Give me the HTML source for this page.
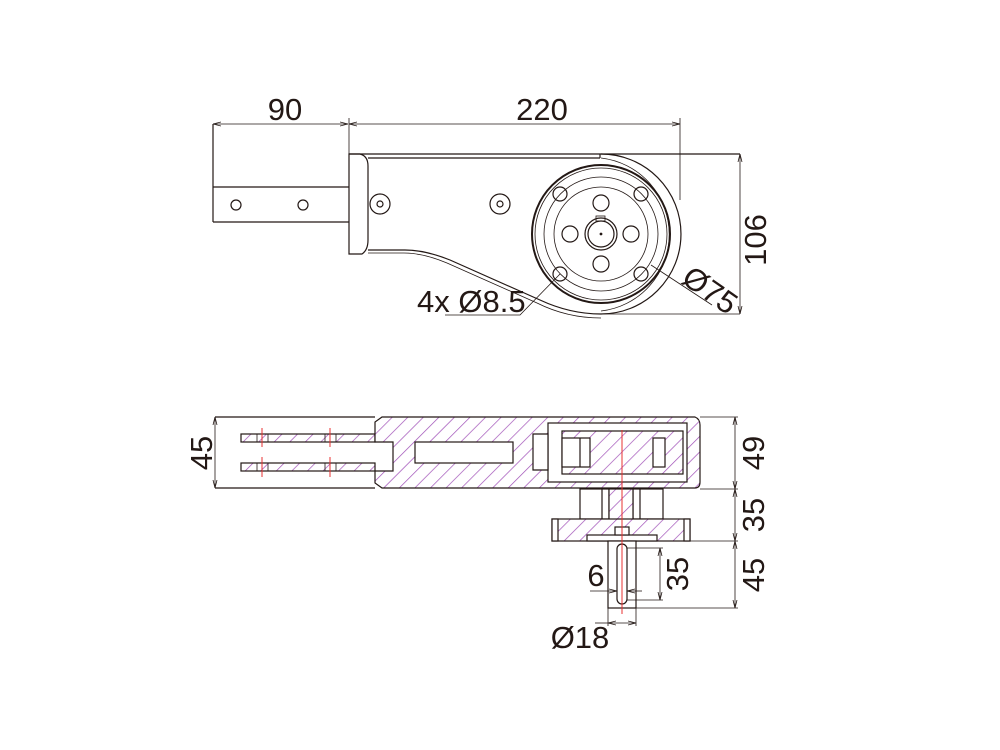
<!DOCTYPE html>
<html><head><meta charset="utf-8"><style>
html,body{margin:0;padding:0;background:#fff;}
svg{display:block}
text{font-family:"Liberation Sans",sans-serif;fill:#231815;font-size:31px;}
</style></head><body>
<svg width="1000" height="750" viewBox="0 0 1000 750" xmlns="http://www.w3.org/2000/svg">
<defs>
<pattern id="h" patternUnits="userSpaceOnUse" width="11" height="11" patternTransform="rotate(45)">
<rect width="11" height="11" fill="#fff"/>
<line x1="0" y1="0" x2="0" y2="11" stroke="#a050b8" stroke-width="1.4"/>
</pattern>
<marker id="a" markerWidth="8" markerHeight="6" refX="8" refY="3" orient="auto-start-reverse" markerUnits="userSpaceOnUse"><path d="M0,1 L8,3 L0,5" fill="none" stroke="#231815" stroke-width="0.8"/></marker>
</defs>
<g fill="none" stroke="#231815" stroke-width="1.2">
<line x1="213" y1="124" x2="348" y2="124" stroke-width="0.8" marker-start="url(#a)" marker-end="url(#a)"/>
<line x1="349" y1="124" x2="680" y2="124" stroke-width="0.8" marker-start="url(#a)" marker-end="url(#a)"/>
<line x1="213" y1="124" x2="213" y2="222"/>
<line x1="349" y1="118" x2="349" y2="154" stroke-width="0.8"/>
<line x1="680" y1="118" x2="680" y2="200" stroke-width="0.8"/>
<line x1="213" y1="187" x2="349" y2="187"/>
<line x1="213" y1="222" x2="349" y2="222"/>
<circle cx="236" cy="205" r="5"/><circle cx="303" cy="205" r="5"/>
<path d="M349,154 L349,254 L362,254 Q368,250 368,240 L368,166 Q368,156 360,154 Z"/>
<line x1="349" y1="154" x2="740" y2="154"/>
<line x1="368" y1="158" x2="600" y2="158"/>
<line x1="600" y1="154" x2="600" y2="158"/>
<circle cx="380" cy="204" r="10"/><circle cx="380" cy="204" r="3"/>
<circle cx="500" cy="204" r="10"/><circle cx="500" cy="204" r="3"/>
<path d="M368,250 L405,250 Q425,250 450,260 L540,300 Q570,314 601,314"/>
<path d="M368,253 L404,253 Q423,253 447,263 L537,303 Q567,318 601,318" stroke-width="0.8"/>
<path d="M601,154 A80,80 0 0 1 601,314"/>
<path d="M601,158 A77,77 0 0 1 601,311" stroke-width="0.8"/>
<line x1="601" y1="314" x2="740" y2="314" stroke-width="0.8"/>
<circle cx="601" cy="234" r="69" stroke-width="2"/>
<circle cx="601" cy="234" r="66" stroke-width="0.8"/>
<circle cx="601" cy="234" r="57" stroke-width="0.8"/>
<circle cx="601" cy="234" r="47" stroke-width="0.8"/>
<circle cx="560" cy="194" r="7"/><circle cx="641" cy="194" r="7"/>
<circle cx="560" cy="274" r="7"/><circle cx="641" cy="274" r="7"/>
<circle cx="601" cy="203" r="8"/><circle cx="601" cy="264" r="8"/>
<circle cx="570" cy="234" r="8"/><circle cx="631" cy="234" r="8"/>
<circle cx="601" cy="234" r="16"/><circle cx="601" cy="234" r="13"/>
<rect x="596" y="216" width="9" height="5" stroke-width="0.8"/>
<circle cx="601" cy="234" r="0.8" fill="#231815"/>
<polyline points="560,274 520,315 445,315" stroke-width="0.8"/>
<line x1="651" y1="265" x2="712" y2="305" stroke-width="0.8"/>
<line x1="740" y1="154" x2="740" y2="314" stroke-width="0.8" marker-start="url(#a)" marker-end="url(#a)"/>
</g>
<text x="285" y="120" text-anchor="middle">90</text>
<text x="542" y="120" text-anchor="middle">220</text>
<text x="417" y="312">4x Ø8.5</text>
<text transform="translate(680,282) rotate(35)">Ø75</text>
<text transform="translate(766,240) rotate(-90)" text-anchor="middle">106</text>

<g stroke="#231815" stroke-width="1.2">
<g fill="none">
<line x1="215" y1="417" x2="375" y2="417"/>
<line x1="215" y1="488" x2="375" y2="488"/>
<line x1="215" y1="417" x2="215" y2="488" stroke-width="0.8" marker-start="url(#a)" marker-end="url(#a)"/>
</g>
<rect x="241" y="434" width="134" height="8" fill="url(#h)"/>
<rect x="241" y="463" width="134" height="8" fill="url(#h)"/>
<path fill="url(#h)" d="M375,434 L375,422 L382,417 L695,417 Q700,419 700,425 L700,482 Q700,488 695,488 L382,488 L375,483 L375,471 L393,471 L393,442 L375,442 Z"/>
<rect x="415" y="442" width="98" height="21" fill="#fff"/>
<rect x="548" y="423" width="139" height="59" fill="#fff"/>
<path fill="#fff" d="M533,434 L548,434 L548,470 L533,470 Z"/>
<rect x="562" y="431" width="121" height="43" fill="url(#h)"/>
<rect x="562" y="438" width="28" height="29" fill="#fff"/>
<line x1="580" y1="438" x2="580" y2="467"/>
<rect x="653" y="438" width="12" height="29" fill="#fff"/>
<rect x="580" y="489" width="29" height="30" fill="#fff"/>
<line x1="602" y1="489" x2="602" y2="519"/>
<rect x="633" y="489" width="30" height="30" fill="#fff"/>
<line x1="640" y1="489" x2="640" y2="519"/>
<rect x="609" y="489" width="24" height="40" fill="url(#h)"/>
<rect x="552" y="519" width="138" height="22" fill="url(#h)"/>
<rect x="552" y="519" width="6" height="22" fill="#fff"/>
<rect x="684" y="519" width="6" height="22" fill="#fff"/>
<rect x="587" y="535" width="70" height="6" fill="#fff"/>
<rect x="615" y="527" width="14" height="8" fill="#fff"/>
<rect x="608" y="541" width="28" height="67" fill="#fff"/>
<rect x="617" y="544" width="10" height="60" rx="5" fill="#fff"/>
</g>
<g stroke="#e83030" stroke-width="1">
<line x1="622" y1="430" x2="622" y2="614"/>
<line x1="262" y1="428" x2="262" y2="447"/><line x1="330" y1="428" x2="330" y2="447"/>
<line x1="262" y1="457" x2="262" y2="477"/><line x1="330" y1="457" x2="330" y2="477"/>
</g>
<g fill="none" stroke="#231815" stroke-width="0.8">
<line x1="257" y1="434" x2="257" y2="442"/><line x1="268" y1="434" x2="268" y2="442"/>
<line x1="325" y1="434" x2="325" y2="442"/><line x1="336" y1="434" x2="336" y2="442"/>
<line x1="257" y1="463" x2="257" y2="471"/><line x1="268" y1="463" x2="268" y2="471"/>
<line x1="325" y1="463" x2="325" y2="471"/><line x1="336" y1="463" x2="336" y2="471"/>
<line x1="700" y1="417" x2="738" y2="417"/>
<line x1="700" y1="489" x2="738" y2="489"/>
<line x1="690" y1="541" x2="738" y2="541"/>
<line x1="636" y1="608" x2="738" y2="608"/>
<line x1="735" y1="417" x2="735" y2="489" marker-start="url(#a)" marker-end="url(#a)"/>
<line x1="735" y1="489" x2="735" y2="541" marker-start="url(#a)" marker-end="url(#a)"/>
<line x1="735" y1="541" x2="735" y2="608" marker-start="url(#a)" marker-end="url(#a)"/>
<line x1="627" y1="548" x2="663" y2="548"/>
<line x1="627" y1="600" x2="663" y2="600"/>
<line x1="660" y1="548" x2="660" y2="600" marker-start="url(#a)" marker-end="url(#a)"/>
<line x1="590" y1="591" x2="617" y2="591" marker-end="url(#a)"/>
<line x1="627" y1="591" x2="642" y2="591" marker-start="url(#a)"/>
<line x1="608" y1="608" x2="608" y2="626"/>
<line x1="636" y1="608" x2="636" y2="626"/>
<line x1="595" y1="623" x2="608" y2="623"/>
<line x1="608" y1="623" x2="636" y2="623" marker-start="url(#a)" marker-end="url(#a)"/>
</g>
<text transform="translate(212,453) rotate(-90)" text-anchor="middle">45</text>
<text transform="translate(764,453) rotate(-90)" text-anchor="middle">49</text>
<text transform="translate(764,515) rotate(-90)" text-anchor="middle">35</text>
<text transform="translate(764,575) rotate(-90)" text-anchor="middle">45</text>
<text transform="translate(688,574) rotate(-90)" text-anchor="middle">35</text>
<text x="596" y="586" text-anchor="middle">6</text>
<text x="580" y="648" text-anchor="middle">Ø18</text>
</svg>
</body></html>
